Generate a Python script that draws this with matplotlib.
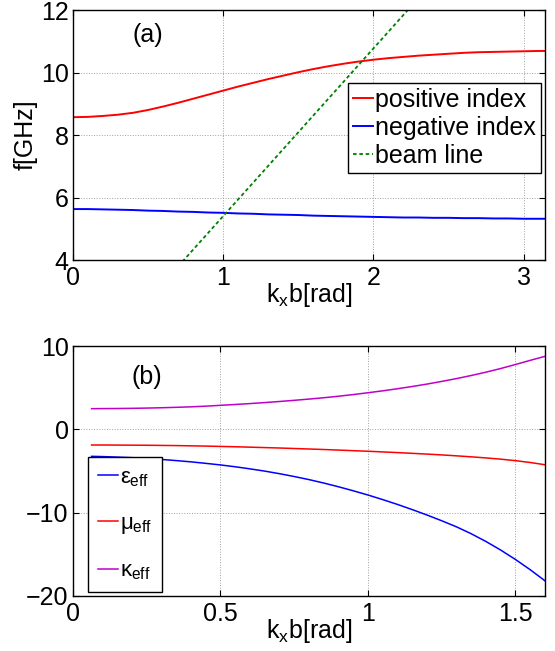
import numpy as np
import matplotlib
matplotlib.use('Agg')
import matplotlib.pyplot as plt

plt.rcParams['font.family'] = ['Liberation Sans', 'DejaVu Sans']
plt.rcParams['mathtext.fontset'] = 'custom'
plt.rcParams['mathtext.rm'] = 'Liberation Sans'
plt.rcParams['mathtext.it'] = 'Liberation Sans'
plt.rcParams['mathtext.bf'] = 'Liberation Sans:bold'

# (a) dispersion curves
kx_a = [0.0, 0.1, 0.2, 0.3, 0.4, 0.5, 0.6, 0.7, 0.8, 0.9, 1.0, 1.1, 1.2, 1.3, 1.4, 1.5, 1.6,
        1.7, 1.8, 1.9, 2.0, 2.1, 2.2, 2.3, 2.4, 2.5, 2.6, 2.7, 2.8, 2.9, 3.0, 3.1, 3.1416]
f_pos = [8.57, 8.58, 8.61, 8.65, 8.71, 8.80, 8.91, 9.03, 9.16, 9.29, 9.42, 9.55, 9.67, 9.79, 9.90,
         10.01, 10.11, 10.20, 10.28, 10.35, 10.41, 10.46, 10.50, 10.54, 10.57, 10.60, 10.63,
         10.65, 10.66, 10.67, 10.68, 10.69, 10.69]
f_neg = [5.63, 5.63, 5.62, 5.61, 5.60, 5.58, 5.57, 5.55, 5.54, 5.52, 5.51, 5.49, 5.48, 5.46, 5.45,
         5.44, 5.42, 5.41, 5.40, 5.39, 5.38, 5.37, 5.36, 5.36, 5.35, 5.35, 5.34, 5.34, 5.33,
         5.33, 5.32, 5.32, 5.32]
kx_beam = [0.0, 3.1416]
f_beam = [0.03, 16.9]

# (b) effective parameters
kx_b = [0.064, 0.10, 0.15, 0.20, 0.25, 0.30, 0.35, 0.40, 0.45, 0.50, 0.55, 0.60, 0.65, 0.70,
        0.75, 0.80, 0.85, 0.90, 0.95, 1.00, 1.05, 1.10, 1.15, 1.20, 1.25, 1.30, 1.35, 1.40,
        1.45, 1.50, 1.55, 1.60]
eps_eff = [-3.24, -3.27, -3.33, -3.40, -3.50, -3.61, -3.75, -3.90, -4.08, -4.27, -4.49, -4.74,
           -5.01, -5.32, -5.66, -6.03, -6.44, -6.89, -7.37, -7.88, -8.43, -9.01, -9.63, -10.28,
           -10.97, -11.70, -12.53, -13.46, -14.49, -15.62, -16.85, -18.18]
mu_eff = [-1.88, -1.88, -1.89, -1.90, -1.91, -1.93, -1.95, -1.98, -2.01, -2.05, -2.09, -2.14,
          -2.19, -2.24, -2.30, -2.36, -2.42, -2.49, -2.56, -2.63, -2.71, -2.79, -2.88, -2.97,
          -3.07, -3.18, -3.30, -3.43, -3.58, -3.76, -3.98, -4.25]
kappa_eff = [2.48, 2.49, 2.50, 2.52, 2.55, 2.59, 2.64, 2.70, 2.78, 2.88, 2.98, 3.09, 3.21, 3.34,
             3.48, 3.63, 3.79, 3.97, 4.17, 4.39, 4.62, 4.87, 5.14, 5.43, 5.75, 6.09, 6.46, 6.86,
             7.30, 7.78, 8.28, 8.76]

FS = 18

fig = plt.figure(figsize=(5.55, 6.51), dpi=100)
ax1 = fig.add_axes([0.131, 0.6006, 0.851, 0.384])
ax2 = fig.add_axes([0.131, 0.0845, 0.851, 0.384])


def style(ax):
    ax.tick_params(direction='in', top=True, right=True, length=4, width=0.8,
                   labelsize=FS)
    ax.tick_params(axis='x', pad=4)
    ax.tick_params(axis='y', pad=3)
    ax.grid(True, linestyle=':', color='#a0a0a0', linewidth=0.7)
    for s in ax.spines.values():
        s.set_linewidth(1.0)


# top panel
ax1.plot(kx_a, f_pos, color='red', lw=1.4, label='positive index')
ax1.plot(kx_a, f_neg, color='blue', lw=1.4, label='negative index')
ax1.plot(kx_beam, f_beam, color='green', lw=1.3, linestyle=(0, (2, 1.5)), label='beam line')
ax1.set_xlim(0, np.pi)
ax1.set_ylim(4, 12)
ax1.set_xticks([0, 1, 2, 3])
ax1.set_yticks([4, 6, 8, 10, 12])
ax1.set_xlabel(r'k$_\mathregular{x}$b[rad]', fontsize=FS, labelpad=-6)
ax1.set_ylabel('f[GHz]', fontsize=FS, labelpad=2)
ax1.text(0.5, 11.2, '(a)', fontsize=FS, ha='center', va='center')
style(ax1)
leg1 = ax1.legend(loc='upper right', bbox_to_anchor=(0.992, 0.708), fontsize=FS,
                  frameon=True, fancybox=False, edgecolor='black', framealpha=1,
                  handlelength=0.8, handletextpad=0.1, labelspacing=0.15,
                  borderpad=0.2, borderaxespad=0)
leg1.get_frame().set_linewidth(1.0)

# bottom panel
ax2.plot(kx_b, eps_eff, color='blue', lw=1.1, label=r'$\varepsilon_\mathregular{eff}\ \ \ $')
ax2.plot(kx_b, mu_eff, color='red', lw=1.1, label=r'$\mu_\mathregular{eff}\ \ \ $')
ax2.plot(kx_b, kappa_eff, color='#c000c8', lw=1.1, label=r'$\kappa_\mathregular{eff}\ \ \ $')
ax2.set_xlim(0, 1.6)
ax2.set_ylim(-20, 10)
ax2.set_xticks([0, 0.5, 1, 1.5])
ax2.set_xticklabels(['0', '0.5', '1', '1.5'])
ax2.set_yticks([-20, -10, 0, 10])
ax2.set_xlabel(r'k$_\mathregular{x}$b[rad]', fontsize=FS, labelpad=-6)
ax2.text(0.25, 6.3, '(b)', fontsize=FS, ha='center', va='center')
style(ax2)
leg2 = ax2.legend(loc='lower left', bbox_to_anchor=(0.032, 0.016), fontsize=16,
                  frameon=True, fancybox=False, edgecolor='black', framealpha=1,
                  handlelength=0.9, handletextpad=0.1, labelspacing=1.1,
                  borderpad=0.45, borderaxespad=0)
leg2.get_frame().set_linewidth(1.0)

fig.savefig('out.png', dpi=100)
